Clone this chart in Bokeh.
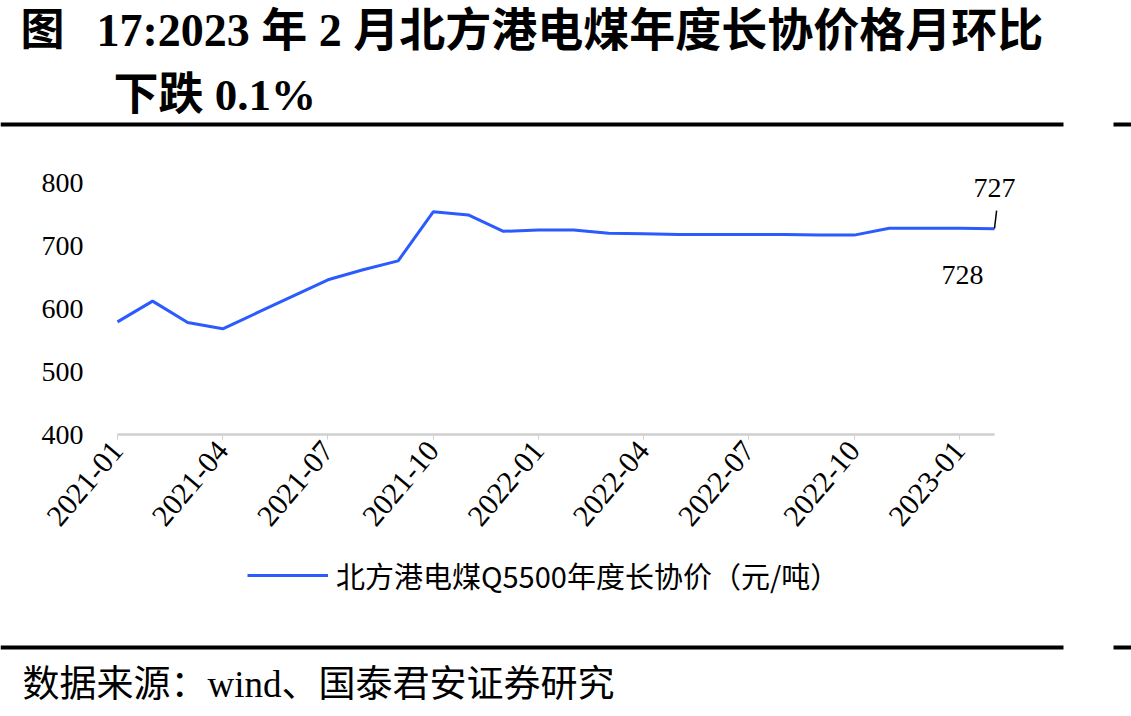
from bokeh.plotting import figure
from bokeh.models import (Range1d, FixedTicker, Label, BoxAnnotation, Legend, LegendItem,
                          ColumnDataSource)
from bokeh.embed import file_html
from bokeh.resources import INLINE

# ---- data ----
months = ["2021-01", "2021-02", "2021-03", "2021-04", "2021-05", "2021-06", "2021-07",
          "2021-08", "2021-09", "2021-10", "2021-11", "2021-12", "2022-01", "2022-02",
          "2022-03", "2022-04", "2022-05", "2022-06", "2022-07", "2022-08", "2022-09",
          "2022-10", "2022-11", "2022-12", "2023-01", "2023-02"]
price = [579, 612, 578, 568, 594, 620, 646, 662, 676, 754, 749, 723, 725, 725,
         720, 719, 718, 718, 718, 718, 717, 717, 728, 728, 728, 727]
tick_labels = ["2021-01", "2021-04", "2021-07", "2021-10", "2022-01", "2022-04",
               "2022-07", "2022-10", "2023-01"]
y_ticks = [400, 500, 600, 700, 800]
series_name = "北方港电煤Q5500年度长协价（元/吨）"
annot_values = ["728", "727"]   # labels for 2023-01, 2023-02

title_fig = "图"
title1 = "17:2023 年 2 月北方港电煤年度长协价格月环比"
title2 = "下跌 0.1%"
source_text = "数据来源：wind、国泰君安证券研究"

xs = list(range(len(months)))
tick_pos = [months.index(t) for t in tick_labels]

SERIF = "Liberation Serif, 'Noto Sans CJK SC'"
CJK = "'Noto Sans CJK SC'"
BLUE = "#2b5bff"
W, H = 1131, 716

# page layout: plotting area spans pixels 117..994 (x) and 434 (value 400) .. 182 (value 800)
PX_LEFT, PX_RIGHT, PX_BASE = 117, 994, 434
KX = (PX_RIGHT - PX_LEFT) / (len(months) - 1)   # px per month
KY = 0.629                                      # px per unit


def X(px):
    return (px - PX_LEFT) / KX


def Y(py):
    return y_ticks[0] + (PX_BASE - py) / KY


p = figure(width=W, height=H, output_backend="svg", toolbar_location=None,
           x_range=Range1d(X(0), X(W)), y_range=Range1d(Y(H), Y(0)),
           min_border=0, min_border_left=0, min_border_right=0,
           min_border_top=0, min_border_bottom=0)
p.outline_line_color = None
p.xgrid.grid_line_color = None
p.ygrid.grid_line_color = None
p.background_fill_color = "white"
p.border_fill_color = "white"

src = ColumnDataSource(dict(x=xs, y=price))
r = p.line("x", "y", source=src, line_color=BLUE, line_width=3)

xa = p.xaxis[0]
xa.fixed_location = y_ticks[0]
xa.ticker = FixedTicker(ticks=tick_pos)
xa.bounds = (xs[0], xs[-1])
xa.major_label_overrides = {i: months[i] for i in tick_pos}
xa.major_label_orientation = 0.87
xa.axis_line_color = "#cfcfcf"
xa.axis_line_width = 2.5
xa.major_tick_line_color = "#cfcfcf"
xa.major_tick_line_width = 1
xa.major_tick_out = 5
xa.major_tick_in = 0
xa.minor_tick_line_color = None
xa.major_label_standoff = 6
xa.major_label_text_font = SERIF
xa.major_label_text_font_size = "30px"
xa.major_label_text_color = "#000000"

ya = p.yaxis[0]
ya.fixed_location = xs[0]
ya.ticker = FixedTicker(ticks=y_ticks)
ya.bounds = (y_ticks[0], y_ticks[-1])
ya.axis_line_color = None
ya.major_tick_line_color = None
ya.minor_tick_line_color = None
ya.major_tick_out = 0
ya.major_tick_in = 0
ya.major_label_standoff = 34
ya.major_label_text_font = SERIF
ya.major_label_text_font_size = "28px"
ya.major_label_text_color = "#000000"

# end-point annotations
p.add_layout(Label(x=xs[-1], y=price[-1], text=annot_values[1], x_offset=0, y_offset=41,
                   text_align="center", text_baseline="middle", text_font=SERIF,
                   text_font_size="28px", text_color="#000000"))
p.add_layout(Label(x=xs[-2], y=price[-2], text=annot_values[0], x_offset=3, y_offset=-47,
                   text_align="center", text_baseline="middle", text_font=SERIF,
                   text_font_size="28px", text_color="#000000"))
p.segment(x0=[xs[-1]], y0=[price[-1] + 0.5], x1=[xs[-1] + 0.06], y1=[price[-1] + 29],
          line_color="#000000", line_width=1.5)

# legend under the chart
legend = Legend(items=[LegendItem(label=series_name, renderers=[r])],
                location=(247, H - 596), orientation="horizontal",
                glyph_width=81, glyph_height=30, label_standoff=8,
                label_text_font=CJK, label_text_font_size="29px",
                label_text_color="#000000", padding=0, margin=0, spacing=0,
                border_line_color=None, background_fill_alpha=0)
p.add_layout(legend, "center")

# title
p.add_layout(Label(x=X(20), y=Y(30), text=title_fig, text_font=SERIF, text_font_size="44px",
                   text_font_style="bold", text_baseline="middle", text_color="#000000"))
p.add_layout(Label(x=X(96), y=Y(30), text=title1, text_font=SERIF, text_font_size="46px",
                   text_font_style="bold", text_baseline="middle", text_color="#000000"))
p.add_layout(Label(x=X(113), y=Y(94), text=title2, text_font=SERIF, text_font_size="45px",
                   text_font_style="bold", text_baseline="middle", text_color="#000000"))

# rules
for ry in (122, 645):
    for l, rr in ((0, 1063), (1113, 1131)):
        p.add_layout(BoxAnnotation(left=X(l), right=X(rr), top=Y(ry), bottom=Y(ry + 4),
                                   fill_color="#000000", fill_alpha=1, line_color=None))

# source
p.add_layout(Label(x=X(22), y=Y(684), text=source_text, text_font=SERIF,
                   text_font_size="37px", text_baseline="middle", text_color="#000000"))

open("out.html", "w").write(file_html(p, INLINE))
